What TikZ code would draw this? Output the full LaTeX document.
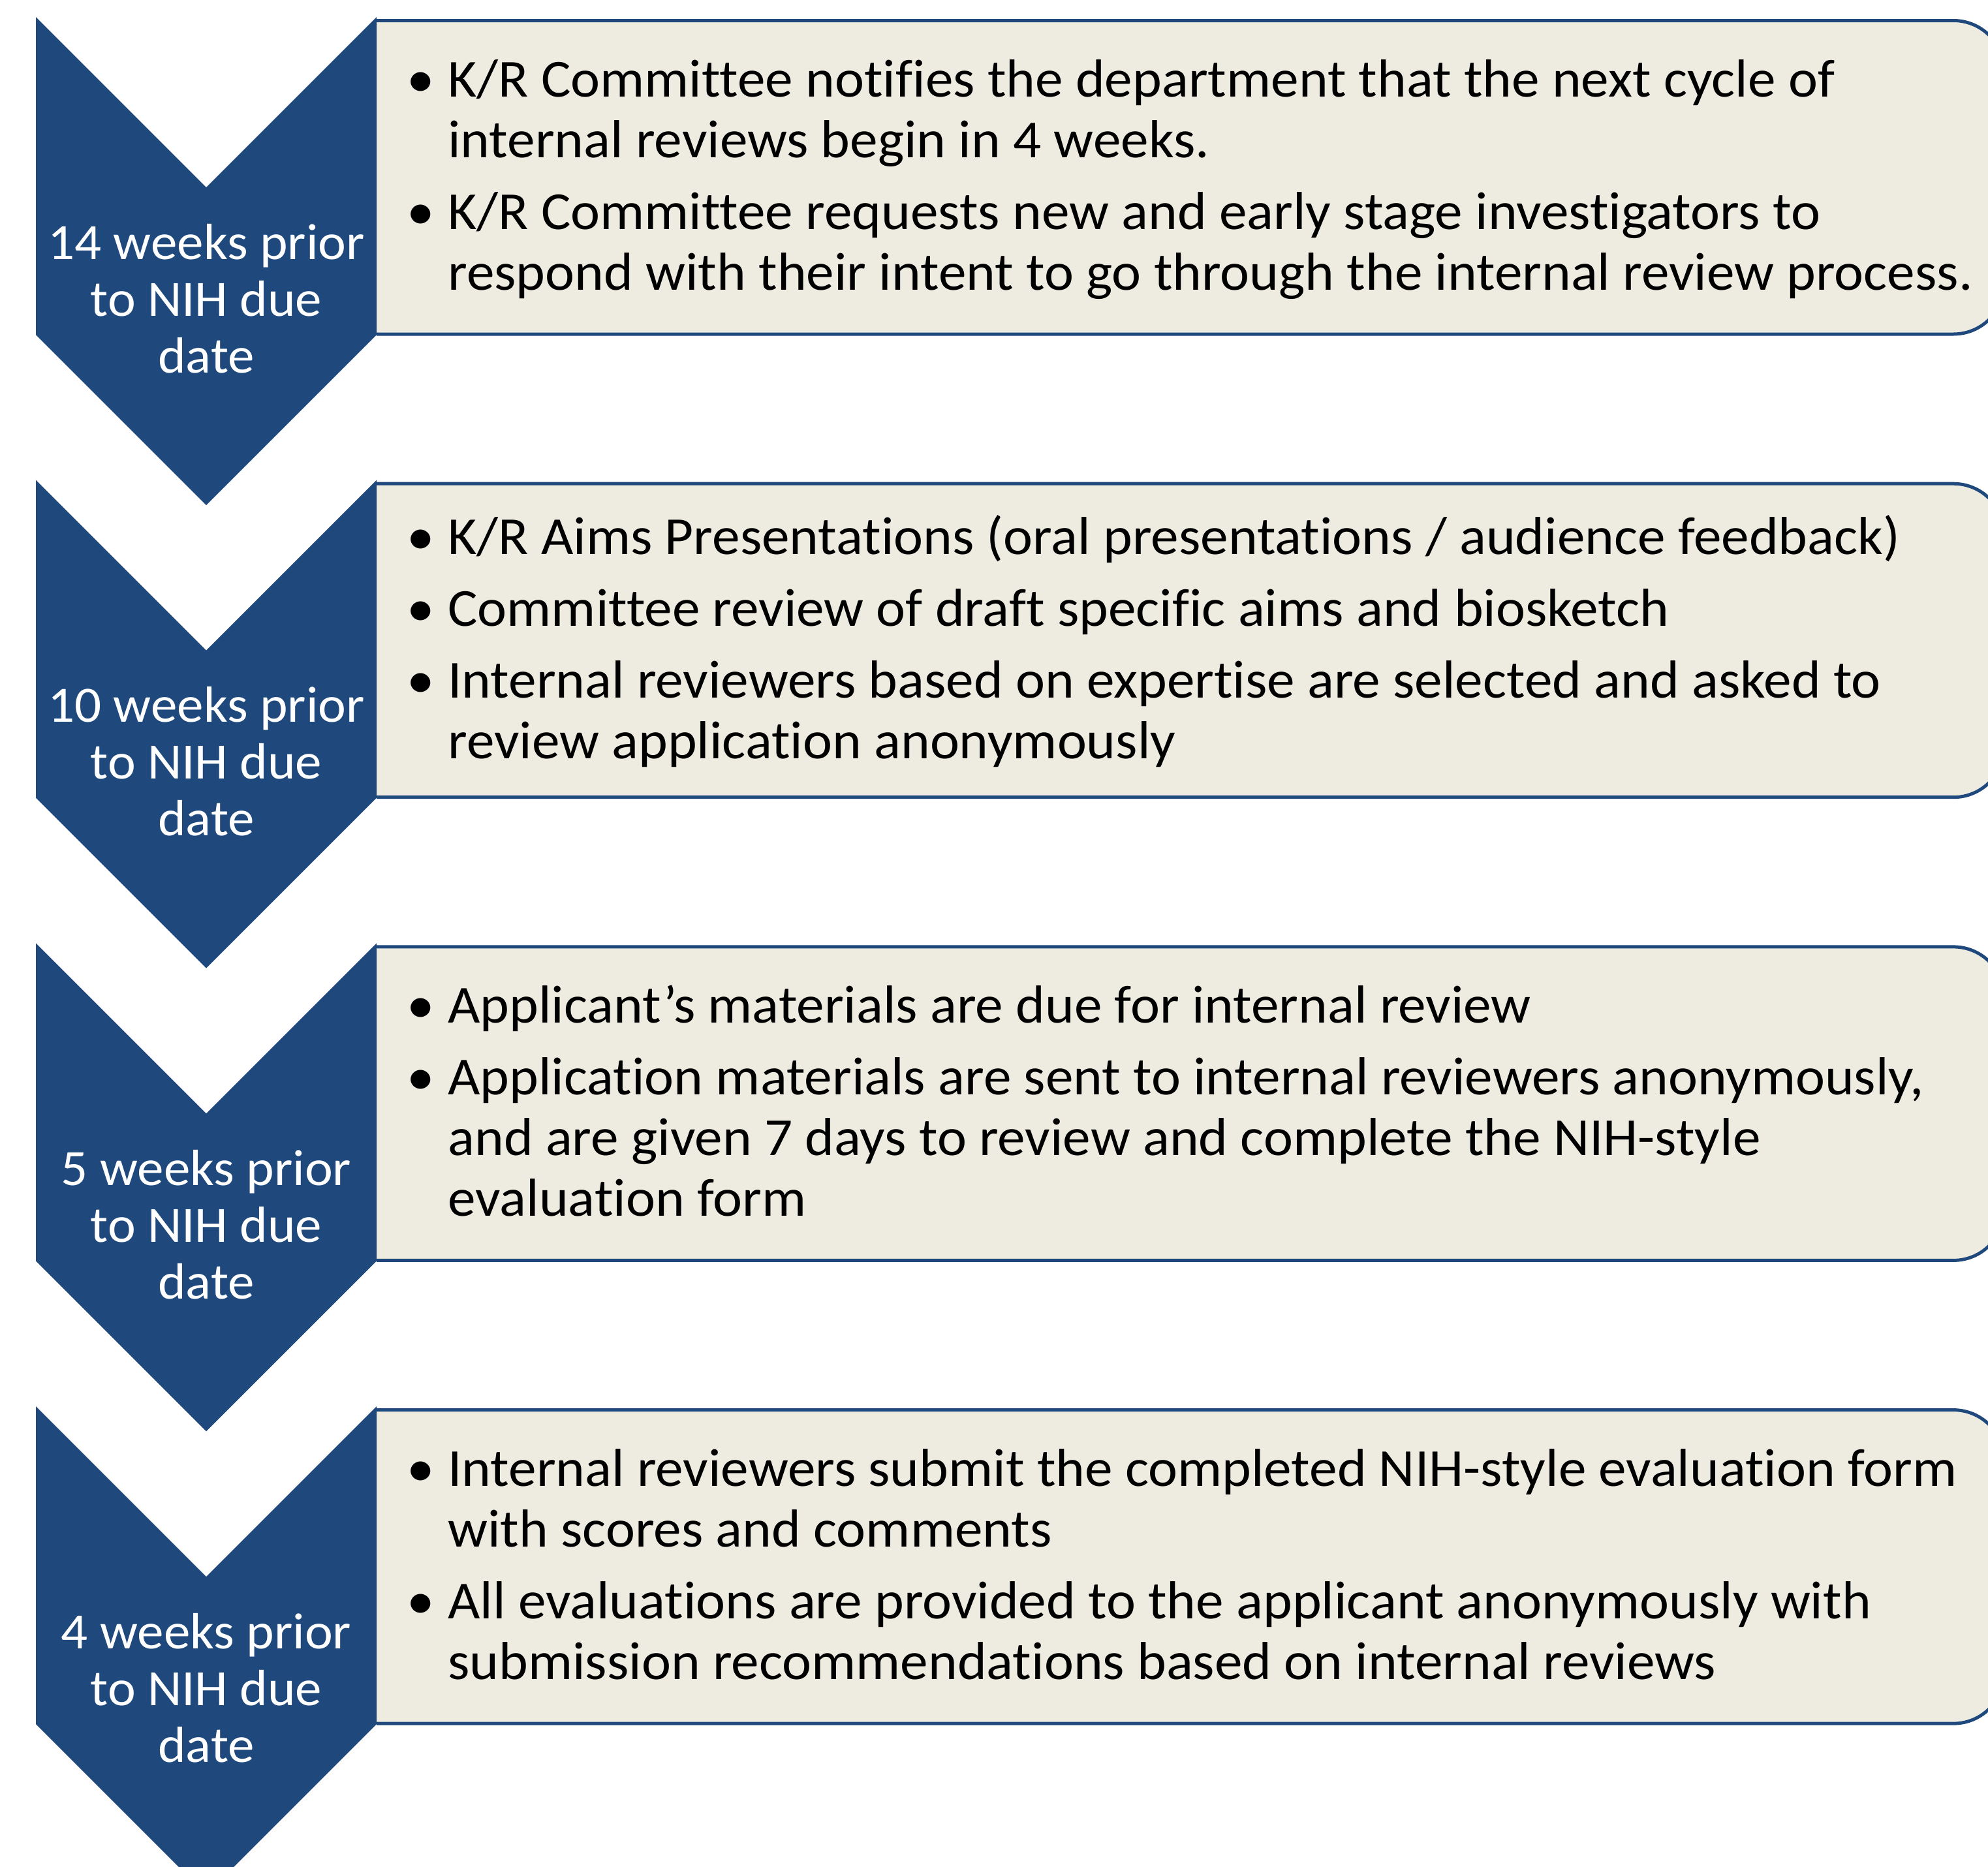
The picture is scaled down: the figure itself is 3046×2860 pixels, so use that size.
\documentclass[tikz,border=0pt]{standalone}
\usepackage{fontspec}
\setmainfont{Carlito}[Ligatures=NoCommon,FakeStretch=1.04]
\definecolor{chevblue}{RGB}{31,73,125}
\definecolor{boxfill}{RGB}{238,236,225}
\newcommand\bitem[1]{\par\hangindent=31.5pt\hangafter=1\noindent\makebox[31.5pt][l]{\textbullet}#1}
\newcommand\boxtext[1]{\parbox[t]{1300pt}{\fontsize{41}{46.5}\selectfont\raggedright\setlength{\parskip}{8.5pt}#1}}
\newcommand\chevtext[1]{\parbox[t]{500pt}{\fontsize{39}{43.5}\selectfont\centering #1}}
\begin{document}
\begin{tikzpicture}[x=0.5pt,y=-0.5pt,
  chevshape/.style={fill=chevblue},
  boxshape/.style={fill=boxfill},
  boxline/.style={draw=chevblue,line width=2.5pt},
  labeltext/.style={inner sep=0pt,anchor=base,text=white},
  itemtext/.style={inner sep=0pt,anchor=base west,text=black}]
\useasboundingbox (0,0) rectangle (3046,2860);
\clip (0,0) rectangle (3046,2860);
\fill[white] (0,0) rectangle (3046,2860);
\foreach \T in {26,735.7,1445.4,2155.1}{
  \pgfmathsetmacro\Ta{\T+5.5}
  \pgfmathsetmacro\Tb{\T+486}
  \pgfmathsetmacro\Tc{\T+486-78}
  \fill[boxshape] (577,\Ta) -- (2993,\Ta) arc[start angle=90,end angle=0,radius=39pt]
     -- (3071,\Tc) arc[start angle=0,end angle=-90,radius=39pt] -- (577,\Tb) -- cycle;
  \draw[boxline] (577,\Ta) -- (2993,\Ta) arc[start angle=90,end angle=0,radius=39pt]
     -- (3071,\Tc) arc[start angle=0,end angle=-90,radius=39pt] -- (577,\Tb);
  \pgfmathsetmacro\Tn{\T+261}
  \pgfmathsetmacro\Tm{\T+487}
  \pgfmathsetmacro\Tp{\T+748}
  \fill[chevshape] (55,\T) -- (316,\Tn) -- (577,\T) -- (577,\Tm) -- (316,\Tp) -- (55,\Tm) -- cycle;
}
\node[labeltext] (lab1) at (316,397) {\chevtext{14 weeks prior\\to NIH due\\date}};
\node[labeltext] (lab2) at (316,1106.7) {\chevtext{10 weeks prior\\to NIH due\\date}};
\node[labeltext] (lab3) at (316,1816.4) {\chevtext{5 weeks prior\\to NIH due\\date}};
\node[labeltext] (lab4) at (316,2526.1) {\chevtext{4 weeks prior\\to NIH due\\date}};
\node[itemtext] (txt1) at (623,148) {\boxtext{%
\bitem{K/R Committee notifies the department that the next cycle of\newline internal reviews begin in 4 weeks.}
\bitem{K/R Committee requests new and early stage investigators to\newline respond with their intent to go through the internal review process.}}};
\node[itemtext] (txt2) at (623,849) {\boxtext{%
\bitem{K/R Aims Presentations (oral presentations / audience feedback)}
\bitem{Committee review of draft specific aims and biosketch}
\bitem{Internal reviewers based on expertise are selected and asked to\newline review application anonymously}}};
\node[itemtext] (txt3) at (623,1567) {\boxtext{%
\bitem{Applicant’s materials are due for internal review}
\bitem{Application materials are sent to internal reviewers anonymously,\newline and are given 7 days to review and complete the NIH-style\newline evaluation form}}};
\node[itemtext] (txt4) at (623,2277) {\boxtext{%
\bitem{Internal reviewers submit the completed NIH-style evaluation form\newline with scores and comments}
\bitem{All evaluations are provided to the applicant anonymously with\newline submission recommendations based on internal reviews}}};
\end{tikzpicture}
\end{document}
